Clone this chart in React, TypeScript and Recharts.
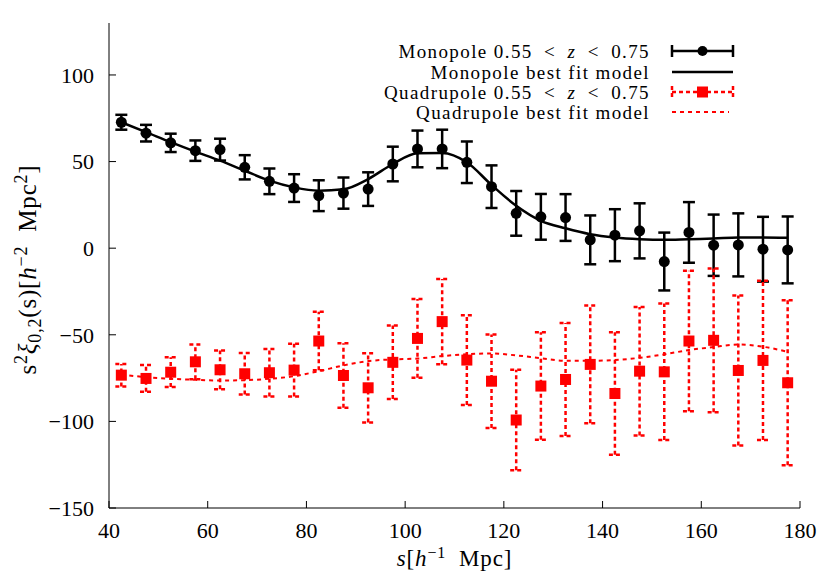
import { ComposedChart, ErrorBar, Line, Scatter, XAxis, YAxis } from "recharts";

const FONT = "'Liberation Serif', 'DejaVu Serif', serif";
const RED = "#ff0000";

// separation bins, h^-1 Mpc
const sValues = [
  42.5, 47.5, 52.5, 57.5, 62.5, 67.5, 72.5, 77.5, 82.5, 87.5, 92.5, 97.5, 102.5, 107.5,
  112.5, 117.5, 122.5, 127.5, 132.5, 137.5, 142.5, 147.5, 152.5, 157.5, 162.5, 167.5, 172.5, 177.5,
];

const mono = [
  72.7, 66.4, 60.8, 56.3, 56.9, 46.7, 38.6, 34.7, 30.3, 31.8, 34.1, 48.6, 57.3, 57.3,
  49.6, 35.5, 20.1, 18.1, 17.7, 4.8, 7.5, 10.0, -7.7, 9.1, 1.7, 1.9, -0.6, -1.0,
];
const monoErr = [
  4.3, 4.8, 5.3, 5.9, 6.3, 7.0, 7.4, 8.0, 8.9, 9.0, 9.7, 10.0, 10.6, 11.1,
  12.0, 12.3, 12.9, 13.2, 13.5, 14.1, 15.0, 15.9, 16.7, 17.5, 17.7, 18.2, 18.7, 19.3,
];
const monoModel = [
  72.7, 67.0, 61.2, 55.7, 50.5, 44.7, 39.0, 35.1, 33.2, 34.0, 39.9, 48.6, 54.8, 55.0,
  49.6, 36.5, 24.5, 15.8, 11.5, 8.1, 6.2, 5.2, 4.8, 5.2, 5.6, 6.2, 6.2, 6.0,
];

const quad = [
  -73.3, -75.2, -71.6, -65.6, -70.2, -72.5, -71.9, -70.4, -53.6, -73.5, -80.6, -65.9, -52.1, -42.4,
  -64.6, -76.8, -99.2, -79.6, -75.8, -67.1, -83.9, -71.0, -71.4, -53.6, -53.2, -70.6, -64.8, -77.7,
];
const quadErr = [
  6.5, 7.7, 8.6, 10.0, 11.2, 12.0, 13.7, 15.2, 16.9, 18.6, 20.0, 21.2, 22.7, 24.6,
  25.9, 27.0, 29.0, 31.0, 32.6, 34.0, 35.4, 37.1, 39.4, 40.5, 41.5, 43.3, 46.0, 47.6,
];
const quadModel = [
  -72.9, -74.5, -75.4, -76.0, -76.4, -76.2, -75.4, -73.9, -71.0, -67.7, -65.2, -64.2, -63.7, -62.3,
  -61.2, -60.8, -61.9, -63.5, -65.0, -65.0, -64.6, -63.3, -61.3, -58.8, -57.1, -55.6, -56.9, -59.8,
];

const xTicks = [40, 60, 80, 100, 120, 140, 160, 180];
const yTicks = [-150, -100, -50, 0, 50, 100];

const rows = sValues.map((s, i) => ({
  s,
  mono: mono[i],
  monoErr: monoErr[i],
  monoModel: monoModel[i],
  quad: quad[i],
  quadErr: quadErr[i],
  quadModel: quadModel[i],
}));

const fmt = (v: number) => (v < 0 ? `\u2212${-v}` : `${v}`);
const tickStyle = { fill: "#000", fontSize: 22, fontFamily: FONT };

const Dot = (p: any) => <circle cx={p.cx} cy={p.cy} r={5.5} fill="#000" />;
const Square = (p: any) => <rect x={p.cx - 5.5} y={p.cy - 5.5} width={11} height={11} fill={RED} />;

const XLabel = ({ viewBox }: any) => (
  <text
    x={viewBox.x + viewBox.width / 2}
    y={viewBox.y + 58}
    textAnchor="middle"
    fontFamily={FONT}
    fontSize={23}
    letterSpacing={0.8}
    style={{ whiteSpace: "pre" }}
  >
    <tspan fontStyle="italic">s</tspan>
    <tspan>[</tspan>
    <tspan fontStyle="italic">h</tspan>
    <tspan dy={-8} fontSize={16}>{"\u22121"}</tspan>
    <tspan dy={8}>{"  Mpc]"}</tspan>
  </text>
);

const YLabel = ({ viewBox }: any) => {
  const cy = viewBox.y + viewBox.height / 2 + 4;
  return (
    <text
      transform={`translate(36, ${cy}) rotate(-90)`}
      textAnchor="middle"
      fontFamily={FONT}
      fontSize={25}
      letterSpacing={0.8}
      style={{ whiteSpace: "pre" }}
    >
      <tspan>s</tspan>
      <tspan dy={-9} fontSize={18}>2</tspan>
      <tspan dy={9} fontStyle="italic">ξ</tspan>
      <tspan dy={5} fontSize={18}>0,2</tspan>
      <tspan dy={-5}>(s)[</tspan>
      <tspan fontStyle="italic">h</tspan>
      <tspan dy={-9} fontSize={18}>{"\u22122"}</tspan>
      <tspan dy={9}>{"  Mpc"}</tspan>
      <tspan dy={-9} fontSize={18}>2</tspan>
      <tspan dy={9}>]</tspan>
    </text>
  );
};

function LegendBox() {
  const rowY = [51, 72, 92, 112];
  const tx = 650;
  const x1 = 672;
  const x2 = 733;
  const xm = (x1 + x2) / 2;
  const textProps = {
    x: tx,
    textAnchor: "end" as const,
    fontFamily: FONT,
    fontSize: 19,
    letterSpacing: 1.4,
    dominantBaseline: "central" as const,
  };
  return (
    <svg width={830} height={140} style={{ position: "absolute", left: 0, top: 0, pointerEvents: "none" }}>
      <text {...textProps} y={rowY[0]} style={{ whiteSpace: "pre" }}>
        {"Monopole 0.55 \u2009<\u2009 "}<tspan fontStyle="italic">z</tspan>{" \u2009<\u2009 0.75"}
      </text>
      <text {...textProps} y={rowY[1]}>Monopole best fit model</text>
      <text {...textProps} y={rowY[2]} style={{ whiteSpace: "pre" }}>
        {"Quadrupole 0.55 \u2009<\u2009 "}<tspan fontStyle="italic">z</tspan>{" \u2009<\u2009 0.75"}
      </text>
      <text {...textProps} y={rowY[3]}>Quadrupole best fit model</text>

      <g stroke="#000" strokeWidth={2.5}>
        <line x1={x1} y1={rowY[0]} x2={x2} y2={rowY[0]} />
        <line x1={x1} y1={rowY[0] - 6} x2={x1} y2={rowY[0] + 6} />
        <line x1={x2} y1={rowY[0] - 6} x2={x2} y2={rowY[0] + 6} />
        <line x1={x1} y1={rowY[1]} x2={x2} y2={rowY[1]} />
      </g>
      <circle cx={xm} cy={rowY[0]} r={5} fill="#000" />

      <g stroke={RED} strokeWidth={2.5} strokeDasharray="4 3">
        <line x1={x1} y1={rowY[2]} x2={x2} y2={rowY[2]} />
        <line x1={x1} y1={rowY[2] - 6} x2={x1} y2={rowY[2] + 6} />
        <line x1={x2} y1={rowY[2] - 6} x2={x2} y2={rowY[2] + 6} />
      </g>
      <rect x={xm - 5.5} y={rowY[2] - 5.5} width={11} height={11} fill={RED} />
      <line x1={x1} y1={rowY[3]} x2={x2 - 4} y2={rowY[3]} stroke={RED} strokeWidth={2} strokeDasharray="4 4" />
    </svg>
  );
}

export default function App() {
  return (
    <div style={{ position: "absolute", left: 0, top: 0, width: 830, height: 580, background: "#fff" }}>
      <ComposedChart
        width={830}
        height={580}
        data={rows}
        margin={{ top: 23, right: 30, bottom: 12, left: 0 }}
        style={{ fontFamily: FONT }}
      >
        <XAxis
          xAxisId="b"
          dataKey="s"
          type="number"
          domain={[40, 180]}
          ticks={xTicks}
          height={60}
          stroke="#000"
          tickSize={-7}
          tickMargin={21}
          tick={tickStyle}
          label={{ content: XLabel }}
        />
        <XAxis
          xAxisId="t"
          orientation="top"
          dataKey="s"
          type="number"
          domain={[40, 180]}
          ticks={xTicks}
          height={0}
          stroke="#000"
          tickSize={-7}
          tick={false}
        />
        <YAxis
          yAxisId="l"
          type="number"
          domain={[-150, 130]}
          ticks={yTicks}
          width={109}
          stroke="#000"
          tickSize={-7}
          tickMargin={22}
          tick={tickStyle}
          tickFormatter={fmt}
          label={{ content: YLabel }}
        />
        <YAxis
          yAxisId="r"
          orientation="right"
          type="number"
          domain={[-150, 130]}
          ticks={yTicks}
          width={0}
          stroke="#000"
          tickSize={-7}
          tick={false}
        />

        <Line
          xAxisId="b"
          yAxisId="l"
          dataKey="monoModel"
          type="monotone"
          stroke="#000"
          strokeWidth={2.5}
          dot={false}
          isAnimationActive={false}
        />
        <Line
          xAxisId="b"
          yAxisId="l"
          dataKey="quadModel"
          type="monotone"
          stroke={RED}
          strokeWidth={2}
          strokeDasharray="4 4"
          dot={false}
          isAnimationActive={false}
        />
        <Scatter xAxisId="b" yAxisId="l" dataKey="mono" shape={Dot} isAnimationActive={false}>
          <ErrorBar dataKey="monoErr" direction="y" width={6} stroke="#000" strokeWidth={2.5} />
        </Scatter>
        <Scatter xAxisId="b" yAxisId="l" dataKey="quad" shape={Square} isAnimationActive={false}>
          <ErrorBar
            dataKey="quadErr"
            direction="y"
            width={6}
            stroke={RED}
            strokeWidth={2.5}
            strokeDasharray="4 3"
          />
        </Scatter>
      </ComposedChart>
      <LegendBox />
    </div>
  );
}
